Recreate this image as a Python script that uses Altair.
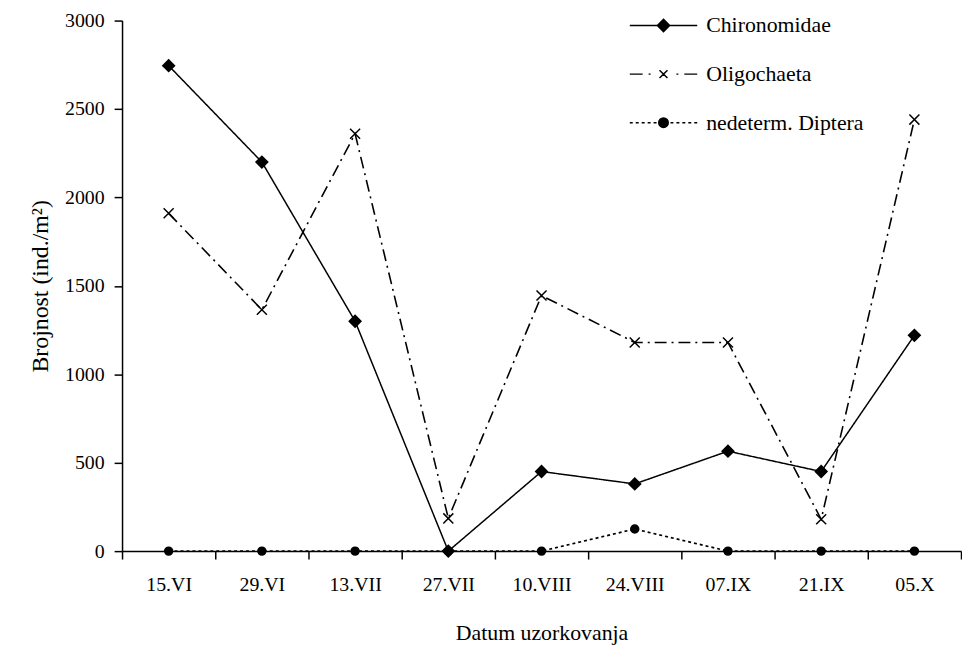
import altair as alt
import pandas as pd
import math

dates = ["15.VI", "29.VI", "13.VII", "27.VII", "10.VIII", "24.VIII", "07.IX", "21.IX", "05.X"]
series_names = ["Chironomidae", "Oligochaeta", "nedeterm. Diptera"]
chironomidae = [2745, 2200, 1300, 0, 450, 380, 565, 450, 1220]
oligochaeta = [1910, 1365, 2360, 185, 1445, 1180, 1180, 180, 2440]
diptera = [0, 0, 0, 0, 0, 125, 0, 0, 0]
y_ticks = [0, 500, 1000, 1500, 2000, 2500, 3000]

rows = []
for name, vals in zip(series_names, [chironomidae, oligochaeta, diptera]):
    for d, v in zip(dates, vals):
        rows.append({"date": d, "value": v, "series": name})
df = pd.DataFrame(rows)

FONT = "Liberation Serif"

# marker path for the chart
x_marker = "M-1,-1L1,1M-1,1L1,-1"

# legend symbol paths (line sample + marker), drawn with strokes only
def solid_diamond(r):
    p = "M0,%.3fL%.3f,0L0,%.3fL%.3f,0Z" % (-r, r, r, -r)
    n = 12
    for i in range(-n, n + 1):
        y = r * i / n
        w = r - abs(y)
        if w > 0.02:
            p += "M%.3f,%.3fH%.3f" % (-w, y, w)
    return p


def solid_circle(r):
    p = "M%.3f,0A%.3f,%.3f 0 1,1 %.3f,0A%.3f,%.3f 0 1,1 %.3f,0Z" % (r, r, r, -r, r, r, r)
    n = 10
    for i in range(-n, n + 1):
        y = r * i / n
        w = math.sqrt(max(r * r - y * y, 0))
        if w > 0.02:
            p += "M%.3f,%.3fH%.3f" % (-w, y, w)
    return p


leg_chiro = "M-3.4,0H3.4" + solid_diamond(0.62)
leg_oligo = ("M-3.4,0H-2.1M-1.5,0H-1.3M1.3,0H1.5M2.1,0H3.4"
             "M-0.4,-0.4L0.4,0.4M-0.4,0.4L0.4,-0.4")
dots = ""
for s in [-3.4, -2.8, -2.2, -1.6, -1.0]:
    dots += "M%.1f,0H%.1f" % (s, s + 0.3)
    dots += "M%.1f,0H%.1f" % (-s - 0.3, -s)
leg_dipt = dots + solid_circle(0.48)

x_enc = alt.X(
    "date:N",
    sort=dates,
    scale=alt.Scale(type="band", domain=dates, paddingInner=0, paddingOuter=0),
    axis=alt.Axis(title="Datum uzorkovanja", tickBand="extent", labelAngle=0,
                  tickSize=8, labelPadding=16, titlePadding=28,
                  labelFontSize=20, titleFontSize=22, grid=False),
)
y_enc = alt.Y(
    "value:Q",
    scale=alt.Scale(domain=[0, 3000], nice=False),
    axis=alt.Axis(title="Brojnost (ind./m²)", values=y_ticks, format="d", tickSize=8,
                  labelPadding=10, titlePadding=12, labelFontSize=20,
                  titleFontSize=24, grid=False),
)

lines = alt.Chart(df).mark_line(color="black").encode(
    x=x_enc,
    y=y_enc,
    strokeDash=alt.StrokeDash(
        "series:N",
        scale=alt.Scale(domain=series_names, range=[[1, 0], [12, 5, 2, 5], [3, 3]]),
        legend=None,
    ),
    strokeWidth=alt.StrokeWidth(
        "series:N",
        scale=alt.Scale(domain=series_names, range=[1.5, 1.7, 2.5]),
        legend=None,
    ),
)

points = alt.Chart(df).mark_point(
    filled=True, fill="black", stroke="black", strokeWidth=1.5, opacity=1
).encode(
    x=x_enc,
    y=y_enc,
    shape=alt.Shape(
        "series:N",
        scale=alt.Scale(domain=series_names, range=["diamond", x_marker, "circle"]),
        legend=None,
    ),
    size=alt.Size(
        "series:N",
        scale=alt.Scale(domain=series_names, range=[140, 64, 85]),
        legend=None,
    ),
)

legend_layer = alt.Chart(df).mark_point(
    filled=False, color="black", stroke="black", strokeWidth=1.5,
    opacity=0, size=400
).encode(
    x=x_enc,
    y=y_enc,
    shape=alt.Shape(
        "series:N",
        scale=alt.Scale(domain=series_names, range=[leg_chiro, leg_oligo, leg_dipt]),
        legend=alt.Legend(
            title=None,
            orient="none",
            legendX=535,
            legendY=-6,
            padding=0,
            labelFont=FONT,
            labelFontSize=22,
            labelColor="black",
            labelOffset=32,
            rowPadding=27,
            symbolSize=400,
            symbolOpacity=1,
            symbolStrokeColor="black",
            symbolStrokeWidth=1.5,
        ),
    ),
)

chart = (
    alt.layer(lines, points, legend_layer)
    .resolve_scale(shape="independent", size="independent")
    .properties(width=846, height=535, padding={"left": 21, "top": 0, "right": 0, "bottom": 0})
    .configure_view(stroke=None)
    .configure_axis(
        labelFont=FONT,
        titleFont=FONT,
        labelColor="black",
        titleColor="black",
        titleFontWeight="normal",
        domainColor="black",
        tickColor="black",
        domainWidth=1.5,
        tickWidth=1.5,
    )
)

chart.save("out.html", embed_options={"renderer": "svg", "actions": False})
